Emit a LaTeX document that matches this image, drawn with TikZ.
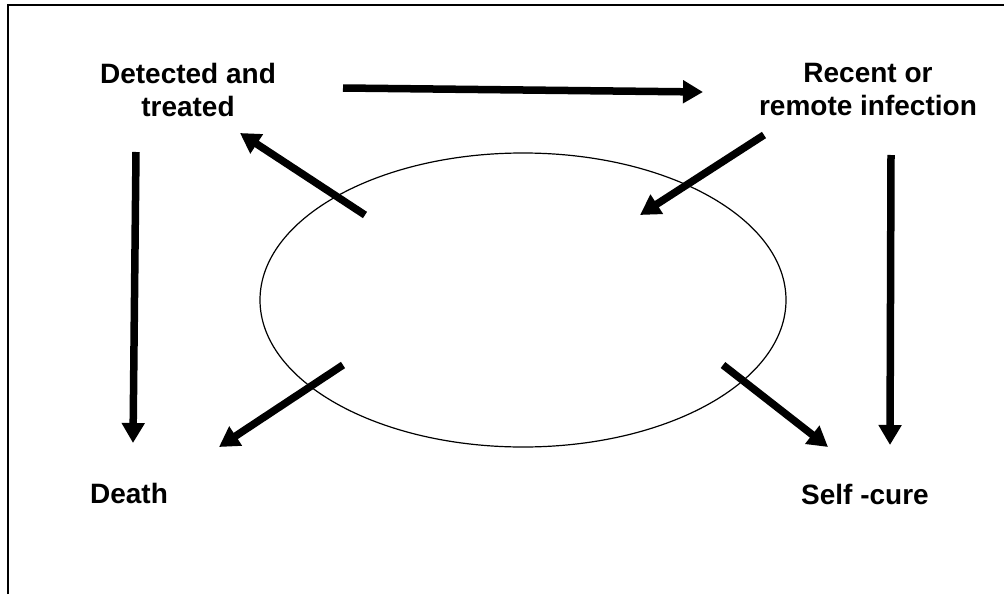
\documentclass[tikz,border=0pt]{standalone}
\usepackage{fontspec}
\setmainfont{Liberation Sans}
\usepackage{tikz}
\usetikzlibrary{arrows.meta}

\tikzset{
  flow/.style={line width=7.5pt,-{Triangle[length=20pt,width=22pt]}},
  lbl/.style={font=\fontsize{28}{33}\selectfont\bfseries,align=center,inner sep=0pt}
}

\begin{document}
\begin{tikzpicture}[x=1pt,y=-1pt]
\useasboundingbox (0,0) rectangle (1006,594);
\draw[line width=2pt] (8,594) -- (8,5) -- (1004,5);

\draw[line width=1.2pt] (523,300) ellipse [x radius=263, y radius=147];

\node[lbl,anchor=north] (detected) at (188,63) {Detected and\\treated};
\node[lbl,anchor=north] (infection) at (868,63) {Recent or\\remote infection};
\node[lbl,anchor=base] (death) at (129,503) {Death};
\node[lbl,anchor=base] (selfcure) at (865,504) {Self -cure};

% arrow ends
\coordinate (topA) at (343,88);
\coordinate (topB) at (703,92);
\coordinate (inA) at (764,135);
\coordinate (inB) at (640,215);
\coordinate (outA) at (365,215);
\coordinate (outB) at (240,133);
\coordinate (dlA) at (136,152);
\coordinate (dlB) at (133,443);
\coordinate (drA) at (891,155);
\coordinate (drB) at (890,445);
\coordinate (blA) at (343,365);
\coordinate (blB) at (219,447);
\coordinate (brA) at (723,365);
\coordinate (brB) at (828,447);

\draw[flow] (topA) -- (topB);
\draw[flow] (inA) -- (inB);
\draw[flow] (outA) -- (outB);
\draw[flow] (dlA) -- (dlB);
\draw[flow] (drA) -- (drB);
\draw[flow] (blA) -- (blB);
\draw[flow] (brA) -- (brB);
\end{tikzpicture}
\end{document}
